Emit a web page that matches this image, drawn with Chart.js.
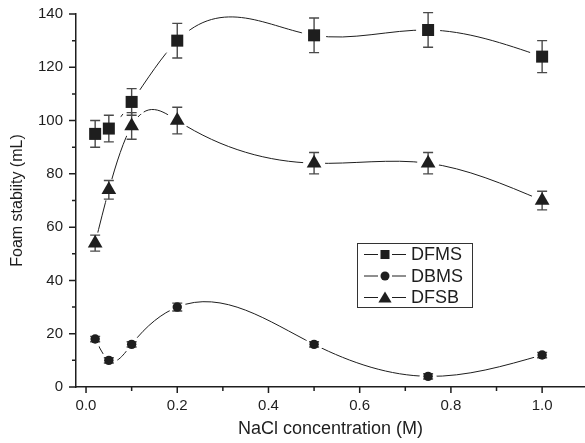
<!DOCTYPE html>
<html>
<head>
<meta charset="utf-8">
<script src="https://cdn.jsdelivr.net/npm/chart.js@4.4.1/dist/chart.umd.min.js"></script>
<style>
  body { margin: 0; background: #fff; }
  #wrap { width: 585px; height: 443px; position: relative; }
</style>
</head>
<body>
<div id="wrap"><canvas id="foamChart"></canvas></div>
<script>
// NaCl concentration (M)
var conc = [0.02, 0.05, 0.1, 0.2, 0.5, 0.75, 1.0];

// foam stability (mL) and error bars
var dfms = [95, 97, 107, 130, 132, 134, 124];
var dfmsErr = [5, 5, 5, 6.5, 6.5, 6.5, 6];
var dbms = [18, 10, 16, 30, 16, 4, 12];
var dbmsErr = [1, 1, 1, 1.5, 1, 1, 1];
var dfsb = [54, 74, 98, 100, 84, 84, 70];
var dfsbErr = [3, 3.5, 5, 5, 4, 4, 3.5];

var xTicks = [0, 0.2, 0.4, 0.6, 0.8, 1.0];
var xMinorTicks = [0.1, 0.3, 0.5, 0.7, 0.9];
var yTicks = [0, 20, 40, 60, 80, 100, 120, 140];
var yMinorTicks = [10, 30, 50, 70, 90, 110, 130];

var ink = '#1e1e1e';
var fontFamily = "'Liberation Sans', Arial, sans-serif";

var series = [
  { label: 'DFMS', values: dfms, err: dfmsErr, style: 'rect', r: 8.5, haloStyle: 'rect', halo: 17 },
  { label: 'DBMS', values: dbms, err: dbmsErr, style: 'circle', r: 4.7, haloStyle: 'circle', halo: 8.5 },
  { label: 'DFSB', values: dfsb, err: dfsbErr, style: 'triangle', r: 8.5, haloStyle: 'circle', halo: 11 }
];

function toPoints(values) {
  return conc.map(function (c, i) { return { x: c, y: values[i] }; });
}

// natural cubic spline through the pixel points, written as bezier control points
function setSplineControls(pts) {
  var n = pts.length;
  if (n < 3) return;
  var h = [], M = new Array(n).fill(0);
  for (var i = 0; i < n - 1; i++) h.push(pts[i + 1].x - pts[i].x);
  var a = [], b = [], c = [], d = [];
  for (i = 1; i < n - 1; i++) {
    a.push(h[i - 1]);
    b.push(2 * (h[i - 1] + h[i]));
    c.push(h[i]);
    d.push(6 * ((pts[i + 1].y - pts[i].y) / h[i] - (pts[i].y - pts[i - 1].y) / h[i - 1]));
  }
  var m = b.length;
  for (i = 1; i < m; i++) {
    var w = a[i] / b[i - 1];
    b[i] -= w * c[i - 1];
    d[i] -= w * d[i - 1];
  }
  var sol = new Array(m);
  sol[m - 1] = d[m - 1] / b[m - 1];
  for (i = m - 2; i >= 0; i--) sol[i] = (d[i] - c[i] * sol[i + 1]) / b[i];
  for (i = 0; i < m; i++) M[i + 1] = sol[i];

  var slope = [];
  for (i = 0; i < n - 1; i++) {
    slope.push((pts[i + 1].y - pts[i].y) / h[i] - h[i] * (2 * M[i] + M[i + 1]) / 6);
  }
  slope.push((pts[n - 1].y - pts[n - 2].y) / h[n - 2] + h[n - 2] * (M[n - 2] + 2 * M[n - 1]) / 6);

  for (i = 0; i < n - 1; i++) {
    var k = h[i] / 3;
    pts[i].cp2x = pts[i].x + k;
    pts[i].cp2y = pts[i].y + slope[i] * k;
    pts[i + 1].cp1x = pts[i + 1].x - k;
    pts[i + 1].cp1y = pts[i + 1].y - slope[i + 1] * k;
  }
}

function drawShape(ctx, style, x, y, size) {
  ctx.beginPath();
  if (style === 'rect') {
    ctx.rect(x - size / 2, y - size / 2, size, size);
  } else if (style === 'circle') {
    ctx.arc(x, y, size / 2, 0, Math.PI * 2);
  } else {
    ctx.moveTo(x, y - size * 0.55);
    ctx.lineTo(x + size * 0.6, y + size * 0.45);
    ctx.lineTo(x - size * 0.6, y + size * 0.45);
    ctx.closePath();
  }
  ctx.fill();
}

function noPadding(s) {
  s.paddingLeft = 0; s.paddingRight = 0; s.paddingTop = 0; s.paddingBottom = 0;
}

var decorPlugin = {
  id: 'decor',
  beforeDatasetDraw: function (chart, args) {
    var ds = chart.data.datasets[args.index];
    var ctx = chart.ctx;
    if (ds.isCurve) {
      var line = args.meta.dataset;
      line.updateControlPoints(chart.chartArea, 'x');
      setSplineControls(args.meta.data);
      line._path = undefined;
    }
    if (ds.err) {
      var ys = chart.scales.y;
      ctx.save();
      ctx.strokeStyle = '#4a4a4a';
      ctx.lineWidth = 1.4;
      args.meta.data.forEach(function (pt, i) {
        var v = ds.data[i].y, e = ds.err[i];
        var top = ys.getPixelForValue(v + e), bot = ys.getPixelForValue(v - e);
        ctx.beginPath();
        ctx.moveTo(pt.x, top); ctx.lineTo(pt.x, bot);
        ctx.moveTo(pt.x - 5, top); ctx.lineTo(pt.x + 5, top);
        ctx.moveTo(pt.x - 5, bot); ctx.lineTo(pt.x + 5, bot);
        ctx.stroke();
      });
      ctx.restore();
    }
  },
  afterDraw: function (chart) {
    var ctx = chart.ctx, xs = chart.scales.x, ys = chart.scales.y, area = chart.chartArea;
    ctx.save();
    ctx.strokeStyle = ink;
    ctx.lineWidth = 1.5;
    ctx.beginPath();
    xTicks.forEach(function (v) { var p = xs.getPixelForValue(v); ctx.moveTo(p, area.bottom); ctx.lineTo(p, area.bottom + 6); });
    xMinorTicks.forEach(function (v) { var p = xs.getPixelForValue(v); ctx.moveTo(p, area.bottom); ctx.lineTo(p, area.bottom + 4); });
    yTicks.forEach(function (v) { var p = ys.getPixelForValue(v); ctx.moveTo(area.left, p); ctx.lineTo(area.left - 7, p); });
    yMinorTicks.forEach(function (v) { var p = ys.getPixelForValue(v); ctx.moveTo(area.left, p); ctx.lineTo(area.left - 4, p); });
    ctx.stroke();

    // legend box
    var bx = 357.5, by = 243.5, bw = 115, bh = 64;
    ctx.lineWidth = 1;
    ctx.strokeStyle = '#333';
    ctx.strokeRect(bx, by, bw, bh);
    ctx.font = '18px ' + fontFamily;
    ctx.textBaseline = 'middle';
    ctx.textAlign = 'left';
    series.forEach(function (s, i) {
      var y = by + 11 + i * 21.5;
      ctx.strokeStyle = ink;
      ctx.beginPath();
      ctx.moveTo(364, y); ctx.lineTo(378, y);
      ctx.moveTo(392, y); ctx.lineTo(406, y);
      ctx.stroke();
      ctx.fillStyle = ink;
      drawShape(ctx, s.style, 385, y, s.style === 'triangle' ? 11 : 9);
      ctx.fillText(s.label, 411, y + 1);
    });
    ctx.restore();
  }
};

var datasets = [];
series.forEach(function (s) {
  datasets.push({
    label: s.label, data: toPoints(s.values), isCurve: true,
    borderColor: ink, borderWidth: 1, pointRadius: 0, tension: 0.4, fill: false, order: 3
  });
});
series.forEach(function (s) {
  datasets.push({
    label: s.label + ' halo', data: toPoints(s.values), showLine: false,
    pointStyle: s.haloStyle, pointRadius: s.halo, pointBackgroundColor: '#fff', pointBorderWidth: 0, order: 2
  });
});
series.forEach(function (s) {
  datasets.push({
    label: s.label, data: toPoints(s.values), err: s.err, showLine: false,
    pointStyle: s.style, pointRadius: s.r, pointBackgroundColor: ink, pointBorderWidth: 0, order: 1
  });
});

Chart.defaults.font.family = fontFamily;
Chart.defaults.color = ink;

new Chart(document.getElementById('foamChart'), {
  type: 'line',
  data: { datasets: datasets },
  plugins: [decorPlugin],
  options: {
    responsive: true,
    maintainAspectRatio: false,
    animation: false,
    layout: { autoPadding: false, padding: { top: 14, right: 0, bottom: 0, left: 0 } },
    plugins: { legend: { display: false }, tooltip: { enabled: false } },
    scales: {
      x: {
        type: 'linear', min: -0.022, max: 1.094,
        afterBuildTicks: function (s) { s.ticks = xTicks.map(function (v) { return { value: v }; }); },
        afterFit: function (s) { s.height = 56; noPadding(s); },
        grid: { display: false, drawTicks: false },
        border: { display: true, color: ink, width: 1.5 },
        ticks: { padding: 10, font: { size: 15 }, color: ink, maxRotation: 0, autoSkip: false,
          callback: function (v) { return v.toFixed(1); } },
        title: { display: true, text: 'NaCl concentration (M)', font: { size: 18 }, color: ink, padding: { top: 0, bottom: 3 } }
      },
      y: {
        min: 0, max: 140,
        afterBuildTicks: function (s) { s.ticks = yTicks.map(function (v) { return { value: v }; }); },
        afterFit: function (s) { s.width = 76; noPadding(s); },
        grid: { display: false, drawTicks: false },
        border: { display: true, color: ink, width: 1.5 },
        ticks: { padding: 13, font: { size: 15 }, color: ink },
        title: { display: true, text: 'Foam stabiity (mL)', font: { size: 16 }, color: ink, padding: { top: 8, bottom: 0 } }
      }
    }
  }
});
</script>
</body>
</html>
